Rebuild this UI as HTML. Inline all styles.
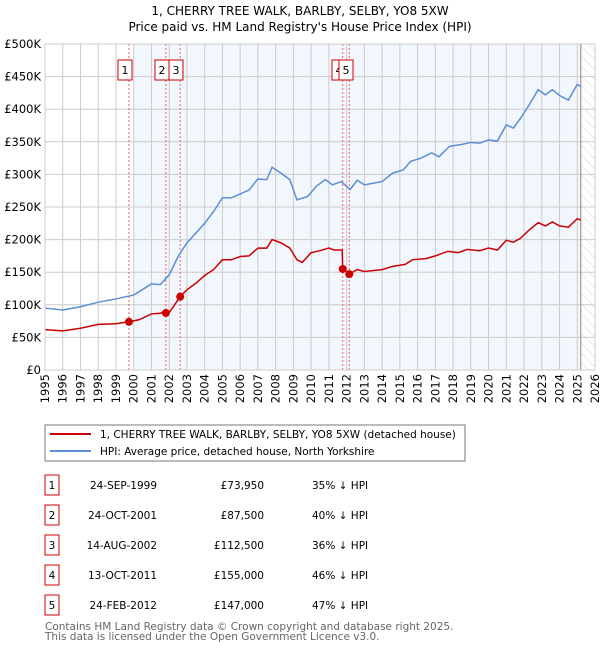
<!DOCTYPE html>
<html><head><meta charset="utf-8"><style>
body{margin:0;background:#fff;width:600px;height:650px;overflow:hidden;font-family:"DejaVu Sans","Liberation Sans",sans-serif}
svg text{font-family:"DejaVu Sans","Liberation Sans",sans-serif}
</style></head><body>
<svg id="c" width="600" height="650" viewBox="0 0 600 650">
<defs><pattern id="hatch" width="7" height="7" patternUnits="userSpaceOnUse" patternTransform="rotate(-45)"><line x1="0" y1="0" x2="0" y2="7" stroke="#ccc" stroke-width="0.8"/></pattern></defs>
<text x="300" y="15" text-anchor="middle" font-size="12">1, CHERRY TREE WALK, BARLBY, SELBY, YO8 5XW</text>
<text x="300" y="31" text-anchor="middle" font-size="12">Price paid vs. HM Land Registry's House Price Index (HPI)</text>
<g id="plot"></g>
<rect x="45" y="425" width="420" height="36" fill="#fff" stroke="#777"/>
<line x1="50" y1="434" x2="91" y2="434" stroke="#cc0000" stroke-width="2"/>
<text x="100" y="438" font-size="10.5">1, CHERRY TREE WALK, BARLBY, SELBY, YO8 5XW (detached house)</text>
<line x1="50" y1="451" x2="91" y2="451" stroke="#5b8fd4" stroke-width="2"/>
<text x="100" y="455" font-size="10.5">HPI: Average price, detached house, North Yorkshire</text>
<g id="table"></g>
<text x="45" y="630" font-size="10.5" fill="#666">Contains HM Land Registry data © Crown copyright and database right 2025.</text>
<text x="45" y="640" font-size="10.5" fill="#666">This data is licensed under the Open Government Licence v3.0.</text>
</svg>
<script>
const hpiYears=[1995,1996,1997,1998,1999,2000,2001,2001.5,2002,2002.5,2003,2003.5,2004,2004.5,2005,2005.5,2006,2006.5,2007,2007.5,2007.8,2008.3,2008.8,2009.2,2009.8,2010.3,2010.8,2011.2,2011.7,2012.2,2012.6,2013,2014,2014.6,2015.2,2015.6,2016.2,2016.8,2017.2,2017.8,2018.5,2019,2019.5,2020,2020.5,2021,2021.4,2021.8,2022.3,2022.8,2023.2,2023.6,2024,2024.5,2025,2025.2];
const hpiValues=[95,92,97,104,109,115,132,131,146,174,195,210,225,243,264,264,270,276,293,292,311,302,292,261,266,282,292,284,289,277,291,284,289,302,307,320,325,333,327,343,346,349,348,353,351,376,371,386,407,430,422,430,421,414,438,435];
const propYears=[1995,1996,1997,1998,1999,1999.73,2000.3,2001,2001.5,2001.75,2001.81,2002,2002.62,2003,2003.5,2004,2004.5,2005,2005.5,2006,2006.5,2007,2007.5,2007.8,2008.3,2008.8,2009.2,2009.5,2010,2010.5,2011,2011.3,2011.75,2011.78,2012.15,2012.6,2013,2014,2014.6,2015.3,2015.7,2016.5,2017,2017.7,2018.3,2018.8,2019.5,2020,2020.5,2021,2021.4,2021.8,2022.3,2022.8,2023.2,2023.6,2024,2024.5,2025,2025.2];
const propValues=[62,60,64,70,71,74,77,86,87,90,87.5,88,112.5,123,133,145,154,169,169,174,175,187,187,200,195,187,169,165,180,183,187,184,184,155,147,154,151,154,159,162,169,171,175,182,180,185,183,187,184,199,196,202,215,226,221,227,221,219,232,230];
const saleLabels=["1","2","3","4","5"];
const saleYears=[1999.73,2001.81,2002.62,2011.78,2012.15];
const salePrices=[73.95,87.5,112.5,155,147];
const saleDates=["24-SEP-1999","24-OCT-2001","14-AUG-2002","13-OCT-2011","24-FEB-2012"];
const salePriceText=["£73,950","£87,500","£112,500","£155,000","£147,000"];
const salePct=["35% ↓ HPI","40% ↓ HPI","36% ↓ HPI","46% ↓ HPI","47% ↓ HPI"];
const yTicks=[0,50,100,150,200,250,300,350,400,450,500];
const yTickLabels=["£0","£50K","£100K","£150K","£200K","£250K","£300K","£350K","£400K","£450K","£500K"];
const xTicks=[1995,1996,1997,1998,1999,2000,2001,2002,2003,2004,2005,2006,2007,2008,2009,2010,2011,2012,2013,2014,2015,2016,2017,2018,2019,2020,2021,2022,2023,2024,2025,2026];

const X0=45,X1=595,Y0=370,Y1=44;
const xs=y=>X0+(y-1995)/(2026-1995)*(X1-X0);
const ys=v=>Y0-v/500*(Y0-Y1);
const NS="http://www.w3.org/2000/svg";
const plot=document.getElementById('plot');
function mk(tag,attrs,parent){const e=document.createElementNS(NS,tag);for(const k in attrs)e.setAttribute(k,attrs[k]);(parent||plot).appendChild(e);return e;}
const dataEnd=2025.2;
let e;
e=mk('rect',{x:X0,y:Y1,width:X1-X0,height:Y0-Y1,fill:'#fff'});


e=mk('rect',{x:xs(2000),y:Y1,width:xs(dataEnd)-xs(2000),height:Y0-Y1,fill:'#f2f6fd'});


e=mk('rect',{x:xs(dataEnd),y:Y1,width:X1-xs(dataEnd),height:Y0-Y1,fill:'url(#hatch)'});


xTicks.forEach(t=>{
 e=mk('line',{x1:xs(t),x2:xs(t),y1:Y1,y2:Y0,stroke:'#ccc','stroke-width':1});
 
 
 e=mk('text',{x:0,y:0,transform:`translate(${xs(t)+4},${Y0+4}) rotate(-90)`,'text-anchor':'end','font-size':'11.5'});
 e.textContent=t;
 
 
});
yTicks.forEach((t,i)=>{
 e=mk('line',{x1:X0,x2:X1,y1:ys(t),y2:ys(t),stroke:'#ccc','stroke-width':1});
 
 
 e=mk('text',{x:X0-4,y:ys(t)+4,'text-anchor':'end','font-size':'11.5'});
 e.textContent=yTickLabels[i];
 
 
});
e=mk('line',{x1:xs(dataEnd),x2:xs(dataEnd),y1:Y1,y2:Y0,stroke:'#888','stroke-width':1});


saleYears.forEach((s,i)=>{
 e=mk('line',{x1:xs(s),x2:xs(s),y1:Y1,y2:Y0,stroke:'#f06060','stroke-width':1,'stroke-dasharray':'2,2'});
 
 
});
e=mk('polyline',{points:hpiYears.map((y,i)=>xs(y)+','+ys(hpiValues[i])).join(' '),fill:'none',stroke:'#5b8fd4','stroke-width':1.5});


e=mk('polyline',{points:propYears.map((y,i)=>xs(y)+','+ys(propValues[i])).join(' '),fill:'none',stroke:'#cc0000','stroke-width':1.5});


saleYears.forEach((s,i)=>{
 e=mk('circle',{cx:xs(s),cy:ys(salePrices[i]),r:4,fill:'#cc0000'});
 
 
});
const boxX=[118,155,169,332,339];
saleLabels.forEach((l,i)=>{
 e=mk('rect',{x:boxX[i],y:60,width:14,height:20,fill:'#fff',stroke:'#cc0000'});
 
 
 e=mk('text',{x:boxX[i]+7,y:74,'text-anchor':'middle','font-size':'11'});
 e.textContent=l;
 
 
});
e=mk('rect',{x:X0,y:Y1,width:X1-X0,height:Y0-Y1,fill:'none',stroke:'#ccc'});


const table=document.getElementById('table');
saleLabels.forEach((l,i)=>{
 const y=475+i*30;
 e=mk('rect',{x:45,y:y,width:14,height:20,fill:'#fff',stroke:'#cc0000'},table);
 
 
 e=mk('text',{x:52,y:y+14,'text-anchor':'middle','font-size':'10.5'},table);
 e.textContent=l;
 
 
 e=mk('text',{x:157,y:y+14,'text-anchor':'end','font-size':'10.5'},table);
 e.textContent=saleDates[i];
 
 
 e=mk('text',{x:264,y:y+14,'text-anchor':'end','font-size':'10.5'},table);
 e.textContent=salePriceText[i];
 
 
 e=mk('text',{x:312,y:y+14,'font-size':'10.5'},table);
 e.textContent=salePct[i];
 
 
});
</script>
</body></html>
